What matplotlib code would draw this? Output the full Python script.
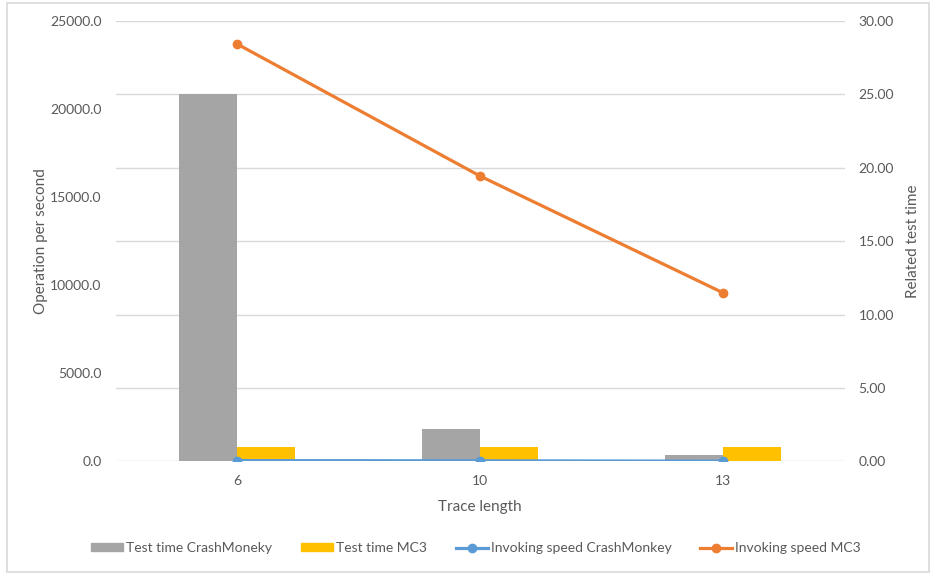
import matplotlib.pyplot as plt
from matplotlib.lines import Line2D
from matplotlib.patches import Patch, Rectangle
from matplotlib.ticker import FormatStrFormatter, MultipleLocator

# chart data
trace_lengths = ["6", "10", "13"]
test_time_crashmonkey = [25.0, 2.2, 0.43]
test_time_mc3 = [1.0, 1.0, 1.0]
speed_crashmonkey = [40, 30, 10]
speed_mc3 = [23700, 16200, 9570]

TEXT = "#595959"
GRID = "#d9d9d9"

plt.rcParams["font.family"] = ["Lato", "DejaVu Sans"]
plt.rcParams["font.size"] = 9.5

fig = plt.figure(figsize=(9.34, 5.74), dpi=100)
ax = fig.add_axes([0.1237, 0.1963, 0.7805, 0.767])
ax2 = ax.twinx()

x = list(range(len(trace_lengths)))
w = 0.24

# bars on the right axis (related test time)
ax2.bar([i - w / 2 for i in x], test_time_crashmonkey, width=w, color="#a5a5a5")
ax2.bar([i + w / 2 for i in x], test_time_mc3, width=w, color="#ffc000")
ax2.set_ylim(0, 30)
ax2.yaxis.set_major_locator(MultipleLocator(5))
ax2.yaxis.set_major_formatter(FormatStrFormatter("%.2f"))
ax2.set_ylabel("Related test time", color=TEXT, fontsize=11, labelpad=8.5)

# lines on the left axis (operations per second)
ax.set_zorder(ax2.get_zorder() + 1)
ax.patch.set_visible(False)
ax.plot(x, speed_crashmonkey, color="#5b9bd5", lw=2.3, marker="o", ms=6)
ax.plot(x, speed_mc3, color="#ed7d31", lw=2.3, marker="o", ms=6)
ax.set_ylim(0, 25000)
ax.yaxis.set_major_locator(MultipleLocator(5000))
ax.yaxis.set_major_formatter(FormatStrFormatter("%.1f"))
ax.set_ylabel("Operation per second", color=TEXT, fontsize=11, labelpad=1.5)
ax.set_xlim(-0.5, len(x) - 0.5)
ax.set_xticks(x)
ax.set_xticklabels(trace_lengths)
ax.set_xlabel("Trace length", color=TEXT, fontsize=11, labelpad=9)

# gridlines drawn behind the bars
ax2.set_axisbelow(True)
ax2.yaxis.grid(True, color=GRID, lw=1)

for a in (ax, ax2):
    for s in a.spines.values():
        s.set_visible(False)
    a.tick_params(length=0, colors=TEXT, pad=10, labelsize=10)

handles = [
    Patch(color="#a5a5a5", label="Test time CrashMoneky"),
    Patch(color="#ffc000", label="Test time MC3"),
    Line2D([], [], color="#5b9bd5", lw=2.3, marker="o", ms=6,
           label="Invoking speed CrashMonkey"),
    Line2D([], [], color="#ed7d31", lw=2.3, marker="o", ms=6,
           label="Invoking speed MC3"),
]
leg = fig.legend(handles=handles, loc="center", ncol=4,
                 bbox_to_anchor=(476 / 934, 1 - 548 / 574), frameon=False,
                 fontsize=10, handlelength=2.3, handleheight=0.5,
                 columnspacing=2.1, handletextpad=0.2, labelcolor=TEXT)

# outer chart border
fig.patches.append(Rectangle((7 / 934, 2 / 574), 922 / 934, 569 / 574,
                             transform=fig.transFigure, fill=False,
                             edgecolor=GRID, lw=1.2))

fig.savefig("out.png", dpi=100)
